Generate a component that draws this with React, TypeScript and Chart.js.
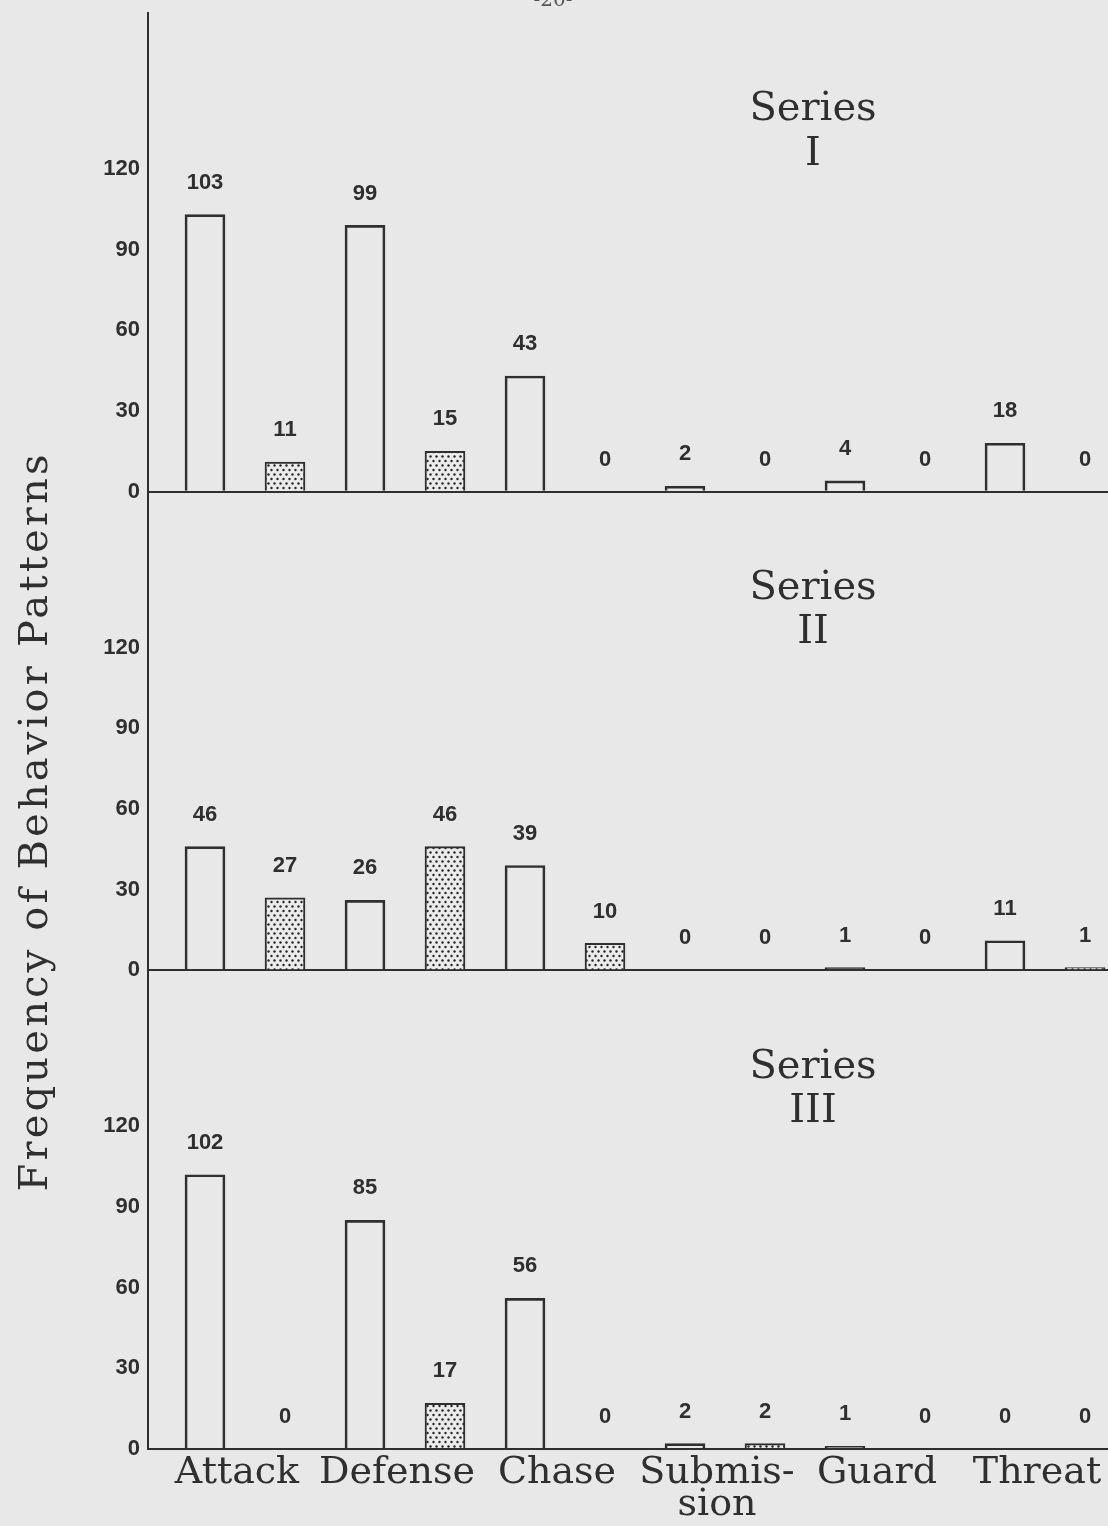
import React, { useEffect, useRef } from 'react';
import { Chart, registerables } from 'chart.js';

Chart.register(...registerables);

// ---- data ----
const categories: (string | string[])[] = ['Attack', 'Defense', 'Chase', ['Submis-', 'sion'], 'Guard', 'Threat'];
const panelNames = ['I', 'II', 'III'];
const yTickValues = [0, 30, 60, 90, 120];

const seriesIOpen = [103, 99, 43, 2, 4, 18];
const seriesIStippled = [11, 15, 0, 0, 0, 0];
const seriesIIOpen = [46, 26, 39, 0, 1, 11];
const seriesIIStippled = [27, 46, 10, 0, 0, 1];
const seriesIIIOpen = [102, 85, 56, 2, 1, 0];
const seriesIIIStippled = [0, 17, 0, 2, 0, 0];

const yAxisTitle = 'Frequency of Behavior Patterns';
const pageNumber = '-20-';

// ---- styles ----
const W = 1108;
const H = 1526;
const INK = '#2f2f2f';
const PAPER = '#e8e8e8';
const SERIF = '"DejaVu Serif", serif';
const SANS = '"Liberation Sans", Arial, sans-serif';

export default function App() {
  const ref = useRef<HTMLCanvasElement | null>(null);

  useEffect(() => {
    const canvas = ref.current;
    if (!canvas) return;

    // stipple pattern
    const pc = document.createElement('canvas');
    pc.width = 6;
    pc.height = 9;
    const pctx = pc.getContext('2d')!;
    pctx.fillStyle = '#ebebeb';
    pctx.fillRect(0, 0, 6, 9);
    pctx.fillStyle = '#262626';
    pctx.beginPath();
    pctx.arc(1.5, 2, 1.2, 0, Math.PI * 2);
    pctx.fill();
    pctx.beginPath();
    pctx.arc(4.5, 6.5, 1.2, 0, Math.PI * 2);
    pctx.fill();
    const stipple = canvas.getContext('2d')!.createPattern(pc, 'repeat');

    const panels = [
      { name: panelNames[0], open: seriesIOpen, stip: seriesIStippled, axis: 'y1' },
      { name: panelNames[1], open: seriesIIOpen, stip: seriesIIStippled, axis: 'y2' },
      { name: panelNames[2], open: seriesIIIOpen, stip: seriesIIIStippled, axis: 'y3' },
    ];

    const datasets: any[] = [];
    panels.forEach((p) => {
      datasets.push({
        label: `Series ${p.name} (open)`,
        yAxisID: p.axis,
        data: p.open.map((v, c) => ({ x: 2 * c, y: v })),
        backgroundColor: 'rgba(0,0,0,0)',
        borderColor: INK,
        borderWidth: 2,
        barThickness: 40,
        grouped: false,
      });
      datasets.push({
        label: `Series ${p.name} (stippled)`,
        yAxisID: p.axis,
        data: p.stip.map((v, c) => ({ x: 2 * c + 1, y: v })),
        backgroundColor: stipple,
        borderColor: INK,
        borderWidth: 2,
        barThickness: 40,
        grouped: false,
      });
    });

    const yScale = () => ({
      type: 'linear',
      position: 'left',
      stack: 'panels',
      stackWeight: 1,
      min: 0,
      max: 178,
      offset: false,
      afterBuildTicks: (s: any) => {
        s.ticks = yTickValues.map((v) => ({ value: v }));
      },
      afterFit: (s: any) => {
        s.width = 148;
        s.paddingTop = 0;
        s.paddingBottom = 0;
      },
      grid: {
        color: (ctx: any) => (ctx.tick && ctx.tick.value === 0 ? INK : 'rgba(0,0,0,0)'),
        lineWidth: 2,
        drawTicks: false,
      },
      border: { display: true, color: INK, width: 2 },
      ticks: {
        padding: 8,
        color: INK,
        font: { family: SANS, size: 22, weight: 'bold' },
      },
    });

    const annot = {
      id: 'annot',
      afterDraw(chart: any) {
        const ctx = chart.ctx;
        ctx.save();
        // value labels
        ctx.fillStyle = INK;
        ctx.font = `bold 22px ${SANS}`;
        ctx.textAlign = 'center';
        ctx.textBaseline = 'bottom';
        chart.data.datasets.forEach((ds: any, i: number) => {
          const meta = chart.getDatasetMeta(i);
          meta.data.forEach((el: any, j: number) => {
            ctx.fillText(String(ds.data[j].y), el.x, el.y - 21);
          });
        });
        // series titles
        ctx.font = `40px ${SERIF}`;
        ctx.textBaseline = 'middle';
        const xs = chart.scales.x;
        panels.forEach((p) => {
          const ys = chart.scales[p.axis];
          const x = xs.getPixelForValue(7.6);
          ctx.fillText('Series', x, ys.getPixelForValue(142));
          ctx.fillText(p.name, x, ys.getPixelForValue(125.5));
        });
        // y axis title
        ctx.save();
        ctx.translate(47, 823);
        ctx.rotate(-Math.PI / 2);
        ctx.font = `40px ${SERIF}`;
        ctx.textAlign = 'center';
        ctx.textBaseline = 'alphabetic';
        const natural = ctx.measureText(yAxisTitle).width;
        const spacing = Math.max(0, (737 - natural) / (yAxisTitle.length - 1));
        (ctx as any).letterSpacing = `${spacing}px`;
        ctx.fillText(yAxisTitle, spacing / 2, 0);
        (ctx as any).letterSpacing = '0px';
        ctx.restore();
        // page number
        ctx.font = `20px ${SERIF}`;
        ctx.textAlign = 'center';
        ctx.textBaseline = 'bottom';
        ctx.fillStyle = '#555';
        ctx.fillText(pageNumber, 553, 11);
        ctx.restore();
      },
    };

    const chart = new Chart(canvas, {
      type: 'bar',
      data: { datasets },
      options: {
        responsive: false,
        animation: false,
        layout: { padding: { top: 13, left: 0, right: 0, bottom: 0 } },
        plugins: { legend: { display: false }, tooltip: { enabled: false } },
        scales: {
          x: {
            type: 'linear',
            offset: false,
            min: -0.7125,
            max: 11.2875,
            afterBuildTicks: (s: any) => {
              s.ticks = categories.map((_, i) => ({ value: 2 * i + 0.4 }));
            },
            afterFit: (s: any) => {
              s.height = 77;
              s.paddingLeft = 0;
              s.paddingRight = 0;
            },
            grid: { display: false, drawTicks: false },
            border: { display: false },
            ticks: {
              autoSkip: false,
              maxRotation: 0,
              padding: 8,
              color: INK,
              font: { family: SERIF, size: 38, lineHeight: 0.85 },
              callback: (_v: any, i: number) => categories[i] as any,
            },
          },
          y3: yScale(),
          y2: yScale(),
          y1: yScale(),
        } as any,
      },
      plugins: [annot],
    } as any);

    return () => chart.destroy();
  }, []);

  return (
    <div style={{ position: 'absolute', left: 0, top: 0, width: W, height: H, background: PAPER }}>
      <canvas ref={ref} width={W} height={H} style={{ display: 'block', width: W, height: H }} />
    </div>
  );
}
